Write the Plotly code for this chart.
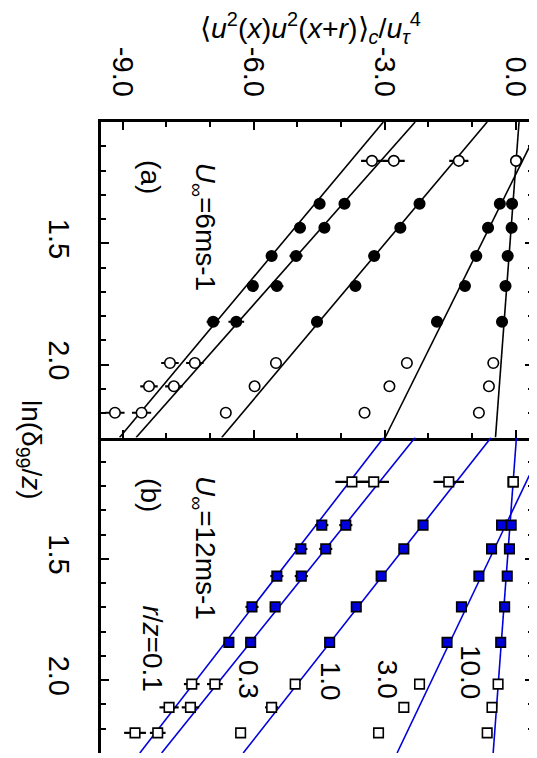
import numpy as np
import plotly.graph_objects as go

# ln(delta99/z) rows for each panel
ln_a = [1.160, 1.337, 1.436, 1.552, 1.676, 1.823, 1.993, 2.089, 2.198]
ln_b = [1.183, 1.361, 1.459, 1.571, 1.698, 1.844, 2.016, 2.112, 2.217]

r_z = ['0.1', '0.3', '1.0', '3.0', '10.0']

# panel (a), U_inf = 6 m/s
vals_a = {
    '0.1': [-3.29, -4.49, -4.94, -5.59, -6.02, -6.93, -7.92, -8.40, -9.18],
    '0.3': [-2.79, -3.92, -4.38, -5.03, -5.47, -6.40, -7.35, -7.83, -8.57],
    '1.0': [-1.30, -2.20, -2.64, -3.24, -3.67, -4.55, -5.49, -5.98, -6.64],
    '3.0': [0.02, -0.36, -0.63, -0.90, -1.16, -1.80, -2.49, -2.89, -3.46],
    '10.0': [0.01, -0.08, -0.09, -0.18, -0.23, -0.31, -0.51, -0.61, -0.84],
}
err_a = {
    '0.1': [0.25, 0.12, 0.10, 0.12, 0.12, 0.15, 0.20, 0.20, 0.22],
    '0.3': [0.25, 0.12, 0.12, 0.15, 0.15, 0.18, 0.20, 0.20, 0.22],
    '1.0': [0.22, 0.08, 0.08, 0.12, 0.12, 0.12, 0.12, 0.12, 0.12],
    '3.0': [0.10, 0.06, 0.06, 0.06, 0.06, 0.08, 0.08, 0.08, 0.08],
    '10.0': [0.10, 0.05, 0.05, 0.05, 0.05, 0.06, 0.06, 0.06, 0.06],
}
# linear fits: value at ln=1.0 and slope
fit0_a = [-3.03, -2.30, -0.65, 0.60, 0.08]
slope_a = [-4.65, -4.92, -4.68, -2.76, -0.415]

# panel (b), U_inf = 12 m/s
vals_b = {
    '0.1': [-3.75, -4.44, -4.92, -5.47, -6.04, -6.57, -7.42, -7.94, -8.72],
    '0.3': [-3.25, -3.89, -4.35, -4.91, -5.51, -6.07, -6.89, -7.45, -8.20],
    '1.0': [-1.53, -2.12, -2.56, -3.08, -3.65, -4.26, -5.05, -5.59, -6.30],
    '3.0': [-0.06, -0.32, -0.55, -0.84, -1.24, -1.57, -2.20, -2.56, -3.14],
    '10.0': [-0.05, -0.10, -0.14, -0.19, -0.25, -0.34, -0.40, -0.54, -0.65],
}
err_b = {
    '0.1': [0.38, 0.15, 0.15, 0.15, 0.15, 0.12, 0.18, 0.22, 0.25],
    '0.3': [0.35, 0.15, 0.15, 0.15, 0.12, 0.12, 0.18, 0.20, 0.18],
    '1.0': [0.35, 0.10, 0.12, 0.10, 0.10, 0.10, 0.12, 0.15, 0.12],
    '3.0': [0.10, 0.08, 0.08, 0.08, 0.08, 0.08, 0.08, 0.10, 0.10],
    '10.0': [0.10, 0.05, 0.05, 0.05, 0.05, 0.05, 0.05, 0.05, 0.05],
}
fit0_b = [-3.02, -2.30, -0.56, 0.73, 0.02]
slope_b = [-4.30, -4.47, -4.37, -2.65, -0.41]

filled_rows = [1, 2, 3, 4, 5]
FONT = 'Liberation Sans, Arial, sans-serif'
BLUE = '#0000dd'

fig = go.Figure()


def add_panel(ln, vals, errs, fit0, slope, yax, symbol, size, fill, line_color):
    ln_line = np.array([1.0, 2.3])
    for k, r in enumerate(r_z):
        fig.add_trace(go.Scatter(
            x=fit0[k] + slope[k] * (ln_line - 1.0), y=ln_line, yaxis=yax,
            mode='lines', line=dict(color=line_color, width=1.6),
            showlegend=False, hoverinfo='skip'))
    for k, r in enumerate(r_z):
        v = np.array(vals[r])
        e = np.array(errs[r])
        l = np.array(ln)
        is_f = np.isin(np.arange(len(v)), filled_rows)
        for mask, color in [(~is_f, 'white'), (is_f, fill)]:
            fig.add_trace(go.Scatter(
                x=v[mask], y=l[mask], yaxis=yax, mode='markers',
                marker=dict(symbol=symbol, size=size, color=color,
                            line=dict(color='black', width=1.6)),
                error_x=dict(type='data', array=e[mask], color='black',
                             thickness=2.2, width=0),
                showlegend=False, name='r/z=' + r))


add_panel(ln_a, vals_a, err_a, fit0_a, slope_a, 'y', 'circle', 10.5, 'black', 'black')
add_panel(ln_b, vals_b, err_b, fit0_b, slope_b, 'y2', 'square', 9.5, BLUE, BLUE)

xcommon = dict(range=[-9.5, 0.4], showline=True, linecolor='black', linewidth=3,
               mirror='ticks', ticks='inside', ticklen=8, tickwidth=2, tickcolor='black',
               tickvals=[-9, -6, -3, 0], ticktext=['-9.0', '-6.0', '-3.0', '0.0'],
               minor=dict(ticks='inside', ticklen=5, tickwidth=2, tickcolor='black',
                          tickmode='linear', tick0=0, dtick=1),
               showgrid=False, zeroline=False, automargin=False)
ycommon = dict(range=[2.3, 1.0], showline=True, linecolor='black', linewidth=3,
               mirror='ticks', ticks='inside', ticklen=8, tickwidth=2, tickcolor='black',
               tickvals=[1.5, 2.0], ticktext=['1.5', '2.0'], tickangle=90,
               ticklabelstandoff=14,
               minor=dict(ticks='inside', ticklen=5, tickwidth=2, tickcolor='black',
                          tickmode='linear', tick0=1.0, dtick=0.1),
               showgrid=False, zeroline=False, automargin=False,
               tickfont=dict(family=FONT, size=29, color='black'))

# the page body adds an 8px offset, so the figure is sized for the rest of the window
fig.update_layout(
    width=529, height=750,
    margin=dict(l=93, r=4, t=114, b=5),
    plot_bgcolor='white', paper_bgcolor='white',
    font=dict(family=FONT, size=28, color='black'),
    xaxis=dict(xcommon, anchor='y', side='top', tickangle=90, ticklabelstandoff=12,
               tickfont=dict(family=FONT, size=29, color='black')),
    xaxis2=dict(xcommon, anchor='y2', matches='x', showticklabels=False),
    yaxis=dict(ycommon, domain=[0.5, 1.0], anchor='x'),
    yaxis2=dict(ycommon, domain=[0.0, 0.5], anchor='x2'),
)


def note(text, x, y, size=28, angle=90):
    fig.add_annotation(text=text, x=x, y=y, xref='paper', yref='paper',
                       showarrow=False, textangle=angle,
                       font=dict(family=FONT, size=size, color='black'),
                       xanchor='center', yanchor='middle')


note('⟨<i>u</i><sup>2</sup>(<i>x</i>)<i>u</i><sup>2</sup>(<i>x</i>+<i>r</i>)⟩<sub><i>c</i></sub>'
     '/<i>u</i><sub><i>τ</i></sub><sup>4</sup>', 0.484, 1.149, size=28.5, angle=0)
note('ln(δ<sub>99</sub>/<i>z</i>)', -0.164, 0.48)
note('(a)', 0.113, 0.913)
note('<i>U</i><sub>∞</sub>=6ms-1', 0.236, 0.834)
note('(b)', 0.113, 0.409)
note('<i>U</i><sub>∞</sub>=12ms-1', 0.236, 0.325)
note('<i>r</i>/<i>z</i>=0.1', 0.120, 0.166)
note('0.3', 0.340, 0.116)
note('1.0', 0.530, 0.113)
note('3.0', 0.662, 0.116)
note('10.0', 0.854, 0.127)

fig.write_html("out.html")
